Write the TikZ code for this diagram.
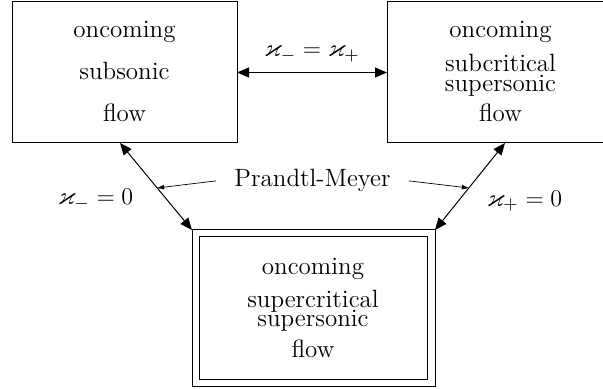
\documentclass[tikz,border=0pt]{standalone}
\usepackage{amssymb}
\usetikzlibrary{arrows.meta,calc}
\begin{document}
\begin{tikzpicture}[x=0.5pt,y=-0.5pt,
  box/.style={draw, line width=0.5pt, inner sep=0pt, outer sep=0pt, rectangle},
  txt/.style={font=\fontsize{12.5}{15}\selectfont, inner sep=0pt, anchor=base},
  biarrow/.style={{Triangle[length=6pt,width=5pt]}-{Triangle[length=6pt,width=5pt]}, line width=0.5pt},
  pointer/.style={-{Triangle[length=3.5pt,width=2.2pt]}, line width=0.35pt}]
\clip (0,0) rectangle (603,389);
% boxes
\node[box, minimum width=112.5pt, minimum height=70.5pt] (L) at (124.5,72.5) {};
\node[box, minimum width=113.5pt, minimum height=70.5pt] (R) at (500.5,72.5) {};
\node[box, minimum width=121.5pt, minimum height=78pt] (B) at (313.5,308) {};
\node[box, minimum width=114pt, minimum height=71pt] (Bi) at (313,308) {};
% texts in boxes
\node[txt] (l1) at (124.5,38) {oncoming};
\node[txt] (l2) at (124.5,80) {subsonic};
\node[txt] (l3) at (124.5,122) {flow};
\node[txt] (r1) at (500.5,38) {oncoming};
\node[txt] (r2) at (500.5,72) {subcritical};
\node[txt] (r3) at (500.5,92) {supersonic};
\node[txt] (r4) at (500.5,122) {flow};
\node[txt] (b1) at (313,274) {oncoming};
\node[txt] (b2) at (313,307) {supercritical};
\node[txt] (b3) at (313,326) {supersonic};
\node[txt] (b4) at (313,357) {flow};
% connectors
\draw[biarrow] (L.east) -- node[txt, pos=0.5, yshift=8pt] (kk) {$\varkappa_- = \varkappa_+$} (R.west);
\coordinate (Ltip) at ($(L.south)+(-4.5,0)$);
\coordinate (Rtip) at ($(R.south)+(4.5,0)$);
\draw[biarrow] (Ltip) -- coordinate[pos=0.517] (pl) (B.north west);
\draw[biarrow] (Rtip) -- coordinate[pos=0.517] (pr) (B.north east);
\node[txt, inner xsep=9pt] (PM) at (312.5,187) {Prandtl-Meyer};
\draw[pointer] (PM.west) -- (pl);
\draw[pointer] (PM.east) -- (pr);
\node[txt] (km) at (95.5,205) {$\varkappa_- = 0$};
\node[txt] (kp) at (524.5,206) {$\varkappa_+ = 0$};
\end{tikzpicture}
\end{document}
